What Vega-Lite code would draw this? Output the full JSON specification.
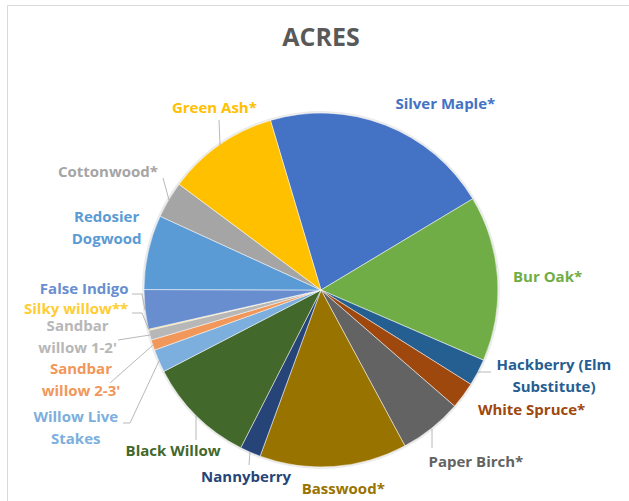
{
  "$schema": "https://vega.github.io/schema/vega-lite/v6.json",
  "autosize": "none",
  "padding": {"left": 7, "top": 5, "right": 0, "bottom": 0},
  "width": 628,
  "height": 570,
  "view": {"stroke": "#D9D9D9", "strokeWidth": 1},
  "title": {"text": "ACRES", "fontSize": 25, "font": "Open Sans", "fontWeight": "bold", "color": "#595959", "anchor": "middle", "baseline": "alphabetic", "offset": -42, "dy": 24},
  "config": {"view": {"stroke": "#D9D9D9", "strokeWidth": 1}, "text": {"lineHeight": 22}},
  "data": {"values": [
    {"order": 1, "label": "Silver Maple*", "acres": 21.0},
    {"order": 2, "label": "Bur Oak*", "acres": 15.1},
    {"order": 3, "label": "Hackberry (Elm\nSubstitute)", "acres": 2.45},
    {"order": 4, "label": "White Spruce*", "acres": 2.45},
    {"order": 5, "label": "Paper Birch*", "acres": 5.75},
    {"order": 6, "label": "Basswood*", "acres": 13.45},
    {"order": 7, "label": "Nannyberry", "acres": 1.9},
    {"order": 8, "label": "Black Willow", "acres": 9.9},
    {"order": 9, "label": "Willow Live\nStakes", "acres": 2.1},
    {"order": 10, "label": "Sandbar\nwillow 2-3'", "acres": 0.95},
    {"order": 11, "label": "Sandbar\nwillow 1-2'", "acres": 0.9},
    {"order": 12, "label": "Silky willow**", "acres": 0.1},
    {"order": 13, "label": "False Indigo", "acres": 3.6},
    {"order": 14, "label": "Redosier\nDogwood", "acres": 6.8},
    {"order": 15, "label": "Cottonwood*", "acres": 3.35},
    {"order": 16, "label": "Green Ash*", "acres": 10.2}
  ]},
  "encoding": {
    "theta": {"field": "acres", "type": "quantitative", "stack": true, "scale": {"range": [-0.2897, 5.9935]}},
    "order": {"field": "order", "type": "quantitative"},
    "color": {"field": "label", "type": "nominal", "legend": null,
      "scale": {
        "domain": ["Silver Maple*", "Bur Oak*", "Hackberry (Elm\nSubstitute)", "White Spruce*", "Paper Birch*", "Basswood*", "Nannyberry", "Black Willow", "Willow Live\nStakes", "Sandbar\nwillow 2-3'", "Sandbar\nwillow 1-2'", "Silky willow**", "False Indigo", "Redosier\nDogwood", "Cottonwood*", "Green Ash*"],
        "range": ["#4472C4", "#70AD47", "#255E91", "#9E480E", "#636363", "#997300", "#264478", "#43682B", "#7CAFDD", "#F1975A", "#B7B7B7", "#FFCD33", "#698ED0", "#5B9BD5", "#A5A5A5", "#FFC000"]
      }}
  },
  "layer": [
    {"mark": {"type": "arc", "outerRadius": 179, "opacity": 0.08}, "encoding": {"color": {"value": "#000000"}}},
    {"mark": {"type": "arc", "outerRadius": 177, "stroke": "#ffffff", "strokeWidth": 0.5}},
    {"mark": {"type": "point", "filled": false, "size": 4, "strokeWidth": 0.8, "opacity": 1},
     "encoding": {
       "color": {"value": "#A6A6A6"},
       "shape": {"field": "label", "type": "nominal", "legend": null,
         "scale": {
           "domain": ["Silver Maple*", "Bur Oak*", "Hackberry (Elm\nSubstitute)", "White Spruce*", "Paper Birch*", "Basswood*", "Nannyberry", "Black Willow", "Willow Live\nStakes", "Sandbar\nwillow 2-3'", "Sandbar\nwillow 1-2'", "Silky willow**", "False Indigo", "Redosier\nDogwood", "Cottonwood*", "Green Ash*"],
           "range": ["M0,0", "M0,0", "M157,82L170,82", "M0,0", "M111,139L111,158", "M0,0", "M-71,162L-72,175", "M-125,126L-125,150", "M-162,71L-191,133L-198,133", "M-168,55L-211,93", "M-171,45L-203,50", "M-172,40L-179,23L-189,23", "M-176,20L-179,4L-189,4", "M0,0", "M-152,-90L-158,-112", "M-101,-145L-102,-170"]
         }}
     }},
    {"mark": {"type": "text", "radius": 200, "dx": 52, "dy": 0, "fontSize": 15, "fontWeight": "bold", "font": "Open Sans", "lineBreak": "\n", "align": "center", "baseline": "middle"},
     "encoding": {"text": {"condition": {"test": "datum.order === 1", "field": "label"}, "value": ""}}},
    {"mark": {"type": "text", "radius": 200, "dx": 27, "dy": 0, "fontSize": 15, "fontWeight": "bold", "font": "Open Sans", "lineBreak": "\n", "align": "center", "baseline": "middle"},
     "encoding": {"text": {"condition": {"test": "datum.order === 2", "field": "label"}, "value": ""}}},
    {"mark": {"type": "text", "radius": 200, "dx": 56, "dy": -18, "fontSize": 15, "fontWeight": "bold", "font": "Open Sans", "lineBreak": "\n", "align": "center", "baseline": "middle"},
     "encoding": {"text": {"condition": {"test": "datum.order === 3", "field": "label"}, "value": ""}}},
    {"mark": {"type": "text", "radius": 200, "dx": 50, "dy": 1, "fontSize": 15, "fontWeight": "bold", "font": "Open Sans", "lineBreak": "\n", "align": "center", "baseline": "middle"},
     "encoding": {"text": {"condition": {"test": "datum.order === 4", "field": "label"}, "value": ""}}},
    {"mark": {"type": "text", "radius": 200, "dx": 30, "dy": 16, "fontSize": 15, "fontWeight": "bold", "font": "Open Sans", "lineBreak": "\n", "align": "center", "baseline": "middle"},
     "encoding": {"text": {"condition": {"test": "datum.order === 5", "field": "label"}, "value": ""}}},
    {"mark": {"type": "text", "radius": 200, "dx": 8, "dy": 0, "fontSize": 15, "fontWeight": "bold", "font": "Open Sans", "lineBreak": "\n", "align": "center", "baseline": "middle"},
     "encoding": {"text": {"condition": {"test": "datum.order === 6", "field": "label"}, "value": ""}}},
    {"mark": {"type": "text", "radius": 200, "dx": 5, "dy": 4, "fontSize": 15, "fontWeight": "bold", "font": "Open Sans", "lineBreak": "\n", "align": "center", "baseline": "middle"},
     "encoding": {"text": {"condition": {"test": "datum.order === 7", "field": "label"}, "value": ""}}},
    {"mark": {"type": "text", "radius": 200, "dx": -7, "dy": 19, "fontSize": 15, "fontWeight": "bold", "font": "Open Sans", "lineBreak": "\n", "align": "center", "baseline": "middle"},
     "encoding": {"text": {"condition": {"test": "datum.order === 8", "field": "label"}, "value": ""}}},
    {"mark": {"type": "text", "radius": 200, "dx": -62, "dy": 47, "fontSize": 15, "fontWeight": "bold", "font": "Open Sans", "lineBreak": "\n", "align": "center", "baseline": "middle"},
     "encoding": {"text": {"condition": {"test": "datum.order === 9", "field": "label"}, "value": ""}}},
    {"mark": {"type": "text", "radius": 200, "dx": -50, "dy": 17, "fontSize": 15, "fontWeight": "bold", "font": "Open Sans", "lineBreak": "\n", "align": "center", "baseline": "middle"},
     "encoding": {"text": {"condition": {"test": "datum.order === 10", "field": "label"}, "value": ""}}},
    {"mark": {"type": "text", "radius": 200, "dx": -50, "dy": -15, "fontSize": 15, "fontWeight": "bold", "font": "Open Sans", "lineBreak": "\n", "align": "center", "baseline": "middle"},
     "encoding": {"text": {"condition": {"test": "datum.order === 11", "field": "label"}, "value": ""}}},
    {"mark": {"type": "text", "radius": 200, "dx": -50, "dy": -26, "fontSize": 15, "fontWeight": "bold", "font": "Open Sans", "lineBreak": "\n", "align": "center", "baseline": "middle"},
     "encoding": {"text": {"condition": {"test": "datum.order === 12", "field": "label"}, "value": ""}}},
    {"mark": {"type": "text", "radius": 200, "dx": -38, "dy": -23, "fontSize": 15, "fontWeight": "bold", "font": "Open Sans", "lineBreak": "\n", "align": "center", "baseline": "middle"},
     "encoding": {"text": {"condition": {"test": "datum.order === 13", "field": "label"}, "value": ""}}},
    {"mark": {"type": "text", "radius": 200, "dx": -19, "dy": -30, "fontSize": 15, "fontWeight": "bold", "font": "Open Sans", "lineBreak": "\n", "align": "center", "baseline": "middle"},
     "encoding": {"text": {"condition": {"test": "datum.order === 14", "field": "label"}, "value": ""}}},
    {"mark": {"type": "text", "radius": 200, "dx": -41, "dy": -16, "fontSize": 15, "fontWeight": "bold", "font": "Open Sans", "lineBreak": "\n", "align": "center", "baseline": "middle"},
     "encoding": {"text": {"condition": {"test": "datum.order === 15", "field": "label"}, "value": ""}}},
    {"mark": {"type": "text", "radius": 200, "dx": 8, "dy": -18, "fontSize": 15, "fontWeight": "bold", "font": "Open Sans", "lineBreak": "\n", "align": "center", "baseline": "middle"},
     "encoding": {"text": {"condition": {"test": "datum.order === 16", "field": "label"}, "value": ""}}}
  ]
}
